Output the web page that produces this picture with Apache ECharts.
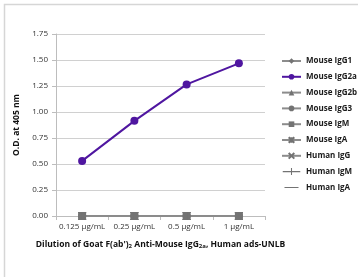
<!DOCTYPE html>
<html><head><meta charset="utf-8">
<script src="https://cdn.jsdelivr.net/npm/echarts@6/dist/echarts.min.js"></script>
<style>html,body{margin:0;padding:0;background:#fff}#c{width:358px;height:277px}</style>
</head><body><div id="c"></div>
<script>
const categories = ['0.125 µg/mL', '0.25 µg/mL', '0.5 µg/mL', '1 µg/mL'];
const seriesNames = ['Mouse IgG1','Mouse IgG2a','Mouse IgG2b','Mouse IgG3','Mouse IgM','Mouse IgA','Human IgG','Human IgM','Human IgA'];
const mouseIgG1 = [0, 0, 0, 0];
const mouseIgG2a = [0.53, 0.915, 1.265, 1.468];
const mouseIgG2b = [0, 0, 0, 0];
const mouseIgG3 = [0, 0, 0, 0];
const mouseIgM = [0, 0, 0, 0];
const mouseIgA = [0, 0, 0, 0];
const humanIgG = [0, 0, 0, 0];
const humanIgM = [0, 0, 0, 0];
const humanIgA = [0, 0, 0, 0];

const values = [mouseIgG1, mouseIgG2a, mouseIgG2b, mouseIgG3, mouseIgM, mouseIgA, humanIgG, humanIgM, humanIgA];
const xPath = 'path://M0,0L10,10M10,0L0,10';
const starPath = 'path://M0,0L10,10M10,0L0,10M5,0L5,10';
const barPath = 'path://M0,0L2,0L2,10L0,10Z';
const symbols = ['diamond','circle','triangle','circle','rect',starPath,xPath,barPath,'none'];
const colors = ['#8c8c8c','#4f16a0','#8c8c8c','#8c8c8c','#8c8c8c','#8c8c8c','#8c8c8c','#8c8c8c','#8c8c8c'];

const chart = echarts.init(document.getElementById('c'), null, {renderer:'canvas'});
const series = seriesNames.map((n,i)=>({
  name: n, type: 'line', data: values[i],
  symbol: symbols[i],
  symbolSize: 8,
  symbolKeepAspect: true,
  z: i===1 ? 5 : 2,
  lineStyle: {color: colors[i], width: i===1 ? 2 : 1.5},
  itemStyle: {color: i===1 ? colors[i] : '#737373', borderColor: i===1 ? colors[i] : '#737373', borderWidth: (i===5||i===6) ? 1 : 0}
}));
const legendData = seriesNames.map((n,i)=>{
  if (i===7) return {name:n, icon:'path://M0,4.4L20,4.4L20,5.6L0,5.6Z M9.4,1L10.6,1L10.6,9L9.4,9Z'};
  if (i===8) return {name:n, icon:'path://M0,4.3L20,4.3L20,5.7L0,5.7Z M0,0L0.01,0L0.01,10L0,10Z'};
  return {name:n};
});
chart.setOption({
  animation: false,
  graphic: [{type:'rect', shape:{x:4.5,y:4.5,width:400,height:300}, style:{fill:'none', stroke:'#d6d6d6', lineWidth:1.5}, silent:true}],
  grid: {left: 56, right: 93, top: 34, bottom: 61},
  legend: {
    orient: 'vertical', left: 276, top: 52,
    itemWidth: 19, itemHeight: 7, itemGap: 7.8,
    data: legendData,
    textStyle: {fontFamily: 'Open Sans', fontSize: 8, fontWeight: 'bold', color: '#1a1a1a'}
  },
  xAxis: {
    type: 'category', data: categories,
    name: 'Dilution of Goat F(ab\'){s|2} Anti-Mouse IgG{s|2a}, Human ads-UNLB',
    nameLocation: 'middle', nameGap: 24,
    nameTextStyle: {fontFamily: 'Open Sans', fontSize: 8.5, fontWeight: 'bold', color: '#111',
      rich: {s: {fontFamily: 'Open Sans', fontSize: 6, fontWeight: 'bold', color: '#111', verticalAlign: 'bottom', padding: [3,0,0,0]}}},
    axisLine: {lineStyle: {color: '#bdbdbd', width: 1}},
    axisTick: {show: true, length: 4, lineStyle: {color: '#bdbdbd'}},
    axisLabel: {fontFamily: 'Open Sans', fontSize: 8, color: '#333', margin: 7, interval: 0}
  },
  yAxis: {
    type: 'value', min: 0, max: 1.75, interval: 0.25,
    name: 'O.D. at 405 nm', nameLocation: 'middle', nameGap: 28,
    nameTextStyle: {fontFamily: 'Open Sans', fontSize: 8.5, fontWeight: 'bold', color: '#111'},
    axisLine: {show: true, lineStyle: {color: '#bdbdbd'}},
    axisTick: {show: true, length: 4, lineStyle: {color: '#bdbdbd'}},
    splitLine: {lineStyle: {color: '#d0d0d0', width: 1}},
    axisLabel: {fontFamily: 'Open Sans', fontSize: 8, color: '#333', margin: 8, formatter: v => v.toFixed(2)}
  },
  series: series
});
</script></body></html>
